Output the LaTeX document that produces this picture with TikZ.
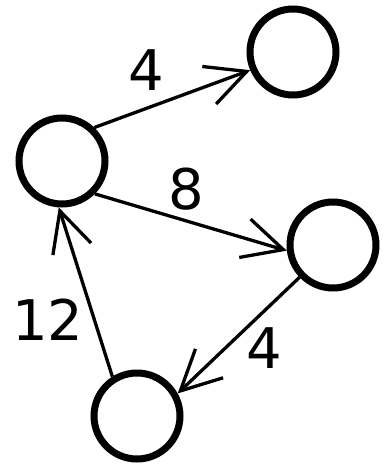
\documentclass[tikz,border=0pt]{standalone}
\usepackage{fontspec}
\setmainfont{DejaVu Sans}
\usetikzlibrary{arrows.meta}
\begin{document}
\begin{tikzpicture}[x=1pt, y=-1pt,
    vertex/.style={circle, draw, line width=7pt, minimum size=86pt, inner sep=0pt},
    weight/.style={inner sep=0pt, font=\fontsize{56}{60}\selectfont},
    edge/.style={line width=3.3pt, -{Straight Barb[length=40pt, width=40pt]}}]

    \useasboundingbox (0,0) rectangle (388,469);

    % --- Vertices ---
    \node[vertex] (left)   at (62,161)  {};
    \node[vertex] (top)    at (293,52)  {};
    \node[vertex] (right)  at (333,245) {};
    \node[vertex] (bottom) at (137,416) {};

    % --- Weighted edges ---
    \draw[edge] (left.46)    -- (top.203);
    \draw[edge] (left.-45)   -- (right.187);
    \draw[edge] (right.224)  -- (bottom.29);
    \draw[edge] (bottom.122) -- (left.266);

    % --- Weights ---
    \node[weight] (w1) at (146,70)  {4};
    \node[weight] (w2) at (186,189) {8};
    \node[weight] (w3) at (264,348) {4};
    \node[weight] (w4) at (48,320)  {12};

\end{tikzpicture}
\end{document}
